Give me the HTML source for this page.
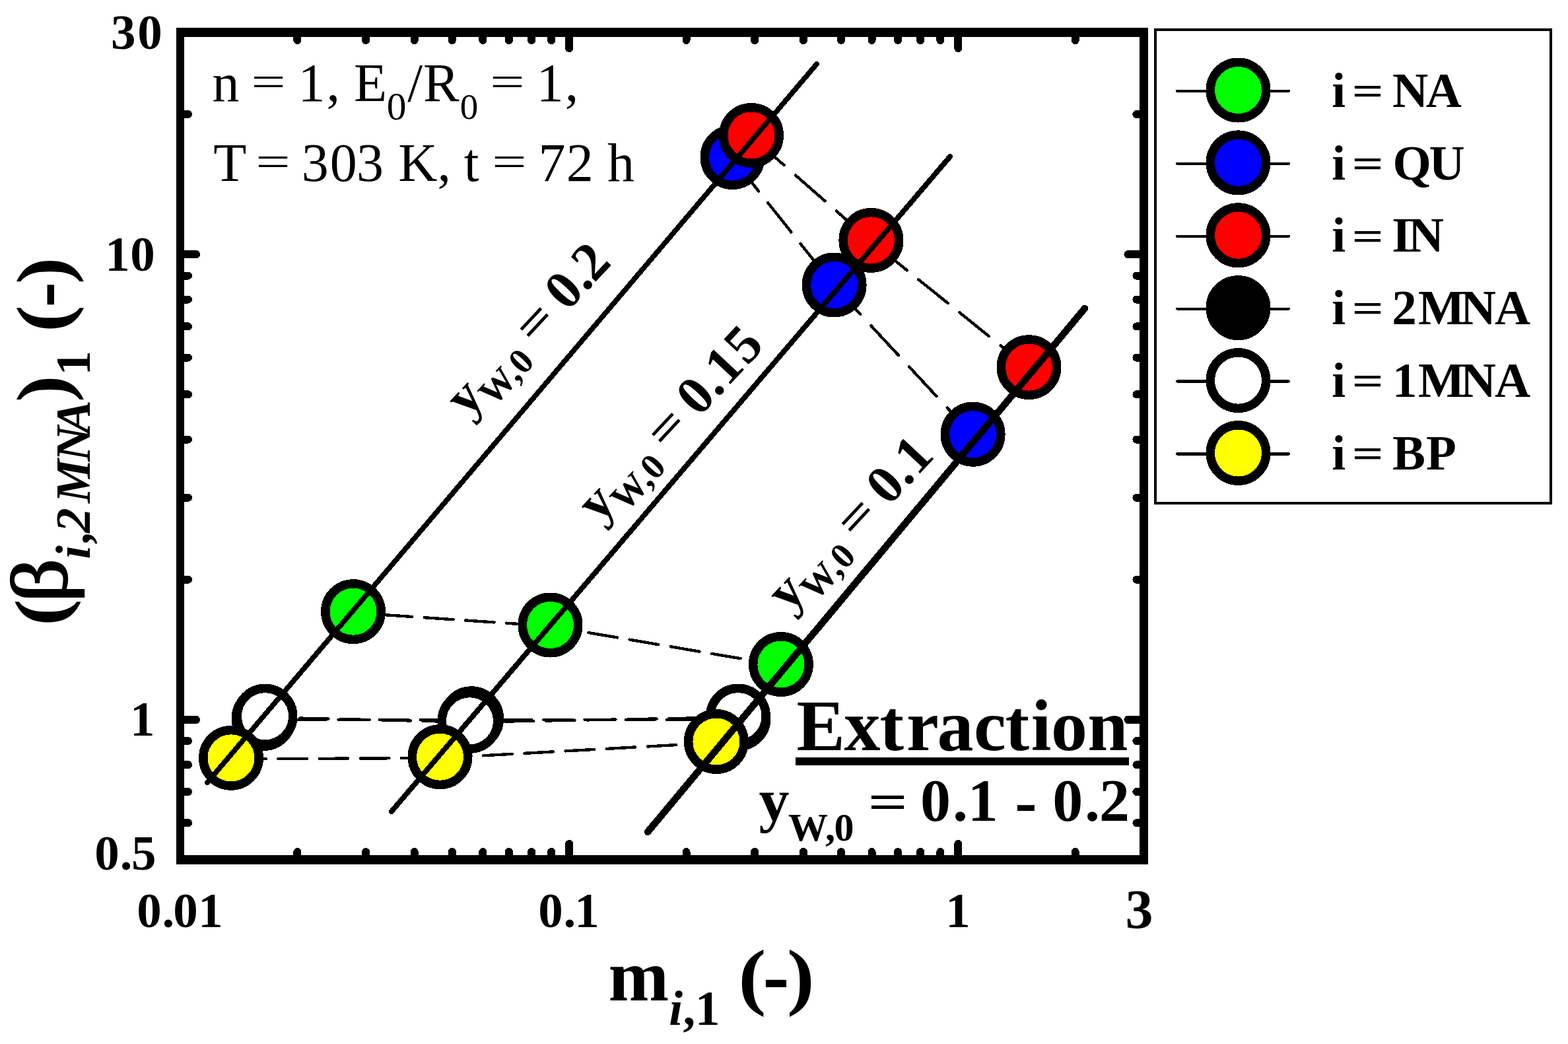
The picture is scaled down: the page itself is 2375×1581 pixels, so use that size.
<!DOCTYPE html>
<html lang="en"><head><meta charset="utf-8"><title>Extraction plot</title>
<style>html,body{margin:0;padding:0;background:#fff;overflow:hidden;}svg{display:block;}text{font-family:"Liberation Serif",serif;fill:#000;white-space:pre;}</style></head><body>
<svg width="2375" height="1581" viewBox="0 0 2375 1581" role="img" aria-label="Extraction selectivity plot">
<rect width="2375" height="1581" fill="#fff"/>
<g shape-rendering="crispEdges">
<line x1="535.0" y1="927.9" x2="833.5" y2="948.2" stroke="#000" stroke-width="4.4" stroke-linecap="round" stroke-dasharray="43.71 18.58" stroke-dashoffset="16.44"/>
<line x1="833.5" y1="948.2" x2="1182.9" y2="1007.7" stroke="#000" stroke-width="4.4" stroke-linecap="round" stroke-dasharray="44.29 18.75" stroke-dashoffset="4.24"/>
<circle cx="535.0" cy="926.2" r="42.25" fill="#00ff00" stroke="#000" stroke-width="13.5"/>
<circle cx="833.5" cy="946.5" r="42.25" fill="#00ff00" stroke="#000" stroke-width="13.5"/>
<circle cx="1182.9" cy="1006.0" r="42.25" fill="#00ff00" stroke="#000" stroke-width="13.5"/>
<line x1="1109.5" y1="239.8" x2="1263.6" y2="433.2" stroke="#000" stroke-width="4.4" stroke-linecap="round" stroke-dasharray="56.97 22.49" stroke-dashoffset="73.11"/>
<line x1="1263.6" y1="433.2" x2="1473.6" y2="659.4" stroke="#000" stroke-width="4.4" stroke-linecap="round" stroke-dasharray="61.10 23.71" stroke-dashoffset="2.85"/>
<circle cx="1109.5" cy="238.1" r="42.25" fill="#0000ff" stroke="#000" stroke-width="13.5"/>
<circle cx="1263.6" cy="431.5" r="42.25" fill="#0000ff" stroke="#000" stroke-width="13.5"/>
<circle cx="1473.6" cy="657.7" r="42.25" fill="#0000ff" stroke="#000" stroke-width="13.5"/>
<line x1="1138.0" y1="206.7" x2="1319.4" y2="365.6" stroke="#000" stroke-width="4.4" stroke-linecap="round" stroke-dasharray="59.41 23.21" stroke-dashoffset="76.37"/>
<line x1="1319.4" y1="365.6" x2="1558.5" y2="557.8" stroke="#000" stroke-width="4.4" stroke-linecap="round" stroke-dasharray="57.19 22.55" stroke-dashoffset="67.15"/>
<circle cx="1138.0" cy="205.0" r="42.25" fill="#ff0000" stroke="#000" stroke-width="13.5"/>
<circle cx="1319.4" cy="363.9" r="42.25" fill="#ff0000" stroke="#000" stroke-width="13.5"/>
<circle cx="1558.5" cy="556.1" r="42.25" fill="#ff0000" stroke="#000" stroke-width="13.5"/>
<line x1="399.5" y1="1089.7" x2="714.2" y2="1090.0" stroke="#000" stroke-width="4.4" stroke-linecap="round" stroke-dasharray="43.60 18.55" stroke-dashoffset="11.20"/>
<line x1="714.2" y1="1090.0" x2="1118.5" y2="1089.7" stroke="#000" stroke-width="4.4" stroke-linecap="round" stroke-dasharray="43.60 18.55" stroke-dashoffset="15.15"/>
<circle cx="399.5" cy="1088.0" r="42.25" fill="#000000" stroke="#000" stroke-width="13.5"/>
<circle cx="714.2" cy="1088.3" r="42.25" fill="#000000" stroke="#000" stroke-width="13.5"/>
<circle cx="1118.5" cy="1088.0" r="42.25" fill="#000000" stroke="#000" stroke-width="13.5"/>
<line x1="401.5" y1="1086.4" x2="711.5" y2="1093.5" stroke="#000" stroke-width="4.4" stroke-linecap="round" stroke-dasharray="43.61 18.55" stroke-dashoffset="9.70"/>
<line x1="711.5" y1="1093.5" x2="1118.0" y2="1086.3" stroke="#000" stroke-width="4.4" stroke-linecap="round" stroke-dasharray="43.61 18.55" stroke-dashoffset="8.95"/>
<circle cx="401.5" cy="1084.7" r="42.25" fill="#ffffff" stroke="#000" stroke-width="13.5"/>
<circle cx="711.5" cy="1091.8" r="42.25" fill="#ffffff" stroke="#000" stroke-width="13.5"/>
<circle cx="1118.0" cy="1084.6" r="42.25" fill="#ffffff" stroke="#000" stroke-width="13.5"/>
<line x1="350.0" y1="1149.5" x2="666.5" y2="1147.9" stroke="#000" stroke-width="4.4" stroke-linecap="round" stroke-dasharray="43.60 18.55" stroke-dashoffset="52.80"/>
<line x1="666.5" y1="1147.9" x2="1084.9" y2="1124.7" stroke="#000" stroke-width="4.4" stroke-linecap="round" stroke-dasharray="43.67 18.57" stroke-dashoffset="58.64"/>
<circle cx="350.0" cy="1147.8" r="42.25" fill="#ffff00" stroke="#000" stroke-width="13.5"/>
<circle cx="666.5" cy="1146.2" r="42.25" fill="#ffff00" stroke="#000" stroke-width="13.5"/>
<circle cx="1084.9" cy="1123.0" r="42.25" fill="#ffff00" stroke="#000" stroke-width="13.5"/>
<line x1="314" y1="1185" x2="1237.2" y2="96.7" stroke="#000" stroke-width="7.8" stroke-linecap="round"/>
<line x1="592.8" y1="1229.1" x2="1439.2" y2="236.9" stroke="#000" stroke-width="8.0" stroke-linecap="round"/>
<line x1="981.1" y1="1259.8" x2="1643" y2="467.1" stroke="#000" stroke-width="10.5" stroke-linecap="round"/>
<rect x="267" y="42" width="1472" height="14" fill="#000"/>
<rect x="267" y="1295" width="1472" height="14" fill="#000"/>
<rect x="267" y="42" width="12" height="1267" fill="#000"/>
<rect x="1726" y="42" width="13" height="1267" fill="#000"/>
<line x1="862.2" y1="1302.0" x2="862.2" y2="1278.0" stroke="#000" stroke-width="12" stroke-linecap="round"/>
<line x1="862.2" y1="49.0" x2="862.2" y2="73.0" stroke="#000" stroke-width="12" stroke-linecap="round"/>
<line x1="1451.3" y1="1302.0" x2="1451.3" y2="1278.0" stroke="#000" stroke-width="12" stroke-linecap="round"/>
<line x1="1451.3" y1="49.0" x2="1451.3" y2="73.0" stroke="#000" stroke-width="12" stroke-linecap="round"/>
<line x1="450.4" y1="1302.0" x2="450.4" y2="1290.0" stroke="#000" stroke-width="12" stroke-linecap="round"/>
<line x1="450.4" y1="49.0" x2="450.4" y2="61.0" stroke="#000" stroke-width="12" stroke-linecap="round"/>
<line x1="554.1" y1="1302.0" x2="554.1" y2="1290.0" stroke="#000" stroke-width="12" stroke-linecap="round"/>
<line x1="554.1" y1="49.0" x2="554.1" y2="61.0" stroke="#000" stroke-width="12" stroke-linecap="round"/>
<line x1="627.7" y1="1302.0" x2="627.7" y2="1290.0" stroke="#000" stroke-width="12" stroke-linecap="round"/>
<line x1="627.7" y1="49.0" x2="627.7" y2="61.0" stroke="#000" stroke-width="12" stroke-linecap="round"/>
<line x1="684.8" y1="1302.0" x2="684.8" y2="1290.0" stroke="#000" stroke-width="12" stroke-linecap="round"/>
<line x1="684.8" y1="49.0" x2="684.8" y2="61.0" stroke="#000" stroke-width="12" stroke-linecap="round"/>
<line x1="731.4" y1="1302.0" x2="731.4" y2="1290.0" stroke="#000" stroke-width="12" stroke-linecap="round"/>
<line x1="731.4" y1="49.0" x2="731.4" y2="61.0" stroke="#000" stroke-width="12" stroke-linecap="round"/>
<line x1="770.9" y1="1302.0" x2="770.9" y2="1290.0" stroke="#000" stroke-width="12" stroke-linecap="round"/>
<line x1="770.9" y1="49.0" x2="770.9" y2="61.0" stroke="#000" stroke-width="12" stroke-linecap="round"/>
<line x1="805.1" y1="1302.0" x2="805.1" y2="1290.0" stroke="#000" stroke-width="12" stroke-linecap="round"/>
<line x1="805.1" y1="49.0" x2="805.1" y2="61.0" stroke="#000" stroke-width="12" stroke-linecap="round"/>
<line x1="835.2" y1="1302.0" x2="835.2" y2="1290.0" stroke="#000" stroke-width="12" stroke-linecap="round"/>
<line x1="835.2" y1="49.0" x2="835.2" y2="61.0" stroke="#000" stroke-width="12" stroke-linecap="round"/>
<line x1="1039.5" y1="1302.0" x2="1039.5" y2="1290.0" stroke="#000" stroke-width="12" stroke-linecap="round"/>
<line x1="1039.5" y1="49.0" x2="1039.5" y2="61.0" stroke="#000" stroke-width="12" stroke-linecap="round"/>
<line x1="1143.2" y1="1302.0" x2="1143.2" y2="1290.0" stroke="#000" stroke-width="12" stroke-linecap="round"/>
<line x1="1143.2" y1="49.0" x2="1143.2" y2="61.0" stroke="#000" stroke-width="12" stroke-linecap="round"/>
<line x1="1216.9" y1="1302.0" x2="1216.9" y2="1290.0" stroke="#000" stroke-width="12" stroke-linecap="round"/>
<line x1="1216.9" y1="49.0" x2="1216.9" y2="61.0" stroke="#000" stroke-width="12" stroke-linecap="round"/>
<line x1="1274.0" y1="1302.0" x2="1274.0" y2="1290.0" stroke="#000" stroke-width="12" stroke-linecap="round"/>
<line x1="1274.0" y1="49.0" x2="1274.0" y2="61.0" stroke="#000" stroke-width="12" stroke-linecap="round"/>
<line x1="1320.6" y1="1302.0" x2="1320.6" y2="1290.0" stroke="#000" stroke-width="12" stroke-linecap="round"/>
<line x1="1320.6" y1="49.0" x2="1320.6" y2="61.0" stroke="#000" stroke-width="12" stroke-linecap="round"/>
<line x1="1360.0" y1="1302.0" x2="1360.0" y2="1290.0" stroke="#000" stroke-width="12" stroke-linecap="round"/>
<line x1="1360.0" y1="49.0" x2="1360.0" y2="61.0" stroke="#000" stroke-width="12" stroke-linecap="round"/>
<line x1="1394.2" y1="1302.0" x2="1394.2" y2="1290.0" stroke="#000" stroke-width="12" stroke-linecap="round"/>
<line x1="1394.2" y1="49.0" x2="1394.2" y2="61.0" stroke="#000" stroke-width="12" stroke-linecap="round"/>
<line x1="1424.3" y1="1302.0" x2="1424.3" y2="1290.0" stroke="#000" stroke-width="12" stroke-linecap="round"/>
<line x1="1424.3" y1="49.0" x2="1424.3" y2="61.0" stroke="#000" stroke-width="12" stroke-linecap="round"/>
<line x1="1628.7" y1="1302.0" x2="1628.7" y2="1290.0" stroke="#000" stroke-width="12" stroke-linecap="round"/>
<line x1="1628.7" y1="49.0" x2="1628.7" y2="61.0" stroke="#000" stroke-width="12" stroke-linecap="round"/>
<line x1="273.0" y1="1089.9" x2="297.0" y2="1089.9" stroke="#000" stroke-width="12" stroke-linecap="round"/>
<line x1="1732.4" y1="1089.9" x2="1708.4" y2="1089.9" stroke="#000" stroke-width="12" stroke-linecap="round"/>
<line x1="273.0" y1="385.2" x2="297.0" y2="385.2" stroke="#000" stroke-width="12" stroke-linecap="round"/>
<line x1="1732.4" y1="385.2" x2="1708.4" y2="385.2" stroke="#000" stroke-width="12" stroke-linecap="round"/>
<line x1="273.0" y1="1246.2" x2="285.0" y2="1246.2" stroke="#000" stroke-width="12" stroke-linecap="round"/>
<line x1="1732.4" y1="1246.2" x2="1721.4" y2="1246.2" stroke="#000" stroke-width="12" stroke-linecap="round"/>
<line x1="273.0" y1="1199.0" x2="285.0" y2="1199.0" stroke="#000" stroke-width="12" stroke-linecap="round"/>
<line x1="1732.4" y1="1199.0" x2="1721.4" y2="1199.0" stroke="#000" stroke-width="12" stroke-linecap="round"/>
<line x1="273.0" y1="1158.2" x2="285.0" y2="1158.2" stroke="#000" stroke-width="12" stroke-linecap="round"/>
<line x1="1732.4" y1="1158.2" x2="1721.4" y2="1158.2" stroke="#000" stroke-width="12" stroke-linecap="round"/>
<line x1="273.0" y1="1122.1" x2="285.0" y2="1122.1" stroke="#000" stroke-width="12" stroke-linecap="round"/>
<line x1="1732.4" y1="1122.1" x2="1721.4" y2="1122.1" stroke="#000" stroke-width="12" stroke-linecap="round"/>
<line x1="273.0" y1="877.7" x2="285.0" y2="877.7" stroke="#000" stroke-width="12" stroke-linecap="round"/>
<line x1="1732.4" y1="877.7" x2="1721.4" y2="877.7" stroke="#000" stroke-width="12" stroke-linecap="round"/>
<line x1="273.0" y1="753.7" x2="285.0" y2="753.7" stroke="#000" stroke-width="12" stroke-linecap="round"/>
<line x1="1732.4" y1="753.7" x2="1721.4" y2="753.7" stroke="#000" stroke-width="12" stroke-linecap="round"/>
<line x1="273.0" y1="665.6" x2="285.0" y2="665.6" stroke="#000" stroke-width="12" stroke-linecap="round"/>
<line x1="1732.4" y1="665.6" x2="1721.4" y2="665.6" stroke="#000" stroke-width="12" stroke-linecap="round"/>
<line x1="273.0" y1="597.3" x2="285.0" y2="597.3" stroke="#000" stroke-width="12" stroke-linecap="round"/>
<line x1="1732.4" y1="597.3" x2="1721.4" y2="597.3" stroke="#000" stroke-width="12" stroke-linecap="round"/>
<line x1="273.0" y1="541.5" x2="285.0" y2="541.5" stroke="#000" stroke-width="12" stroke-linecap="round"/>
<line x1="1732.4" y1="541.5" x2="1721.4" y2="541.5" stroke="#000" stroke-width="12" stroke-linecap="round"/>
<line x1="273.0" y1="494.4" x2="285.0" y2="494.4" stroke="#000" stroke-width="12" stroke-linecap="round"/>
<line x1="1732.4" y1="494.4" x2="1721.4" y2="494.4" stroke="#000" stroke-width="12" stroke-linecap="round"/>
<line x1="273.0" y1="453.5" x2="285.0" y2="453.5" stroke="#000" stroke-width="12" stroke-linecap="round"/>
<line x1="1732.4" y1="453.5" x2="1721.4" y2="453.5" stroke="#000" stroke-width="12" stroke-linecap="round"/>
<line x1="273.0" y1="417.5" x2="285.0" y2="417.5" stroke="#000" stroke-width="12" stroke-linecap="round"/>
<line x1="1732.4" y1="417.5" x2="1721.4" y2="417.5" stroke="#000" stroke-width="12" stroke-linecap="round"/>
<line x1="273.0" y1="173.1" x2="285.0" y2="173.1" stroke="#000" stroke-width="12" stroke-linecap="round"/>
<line x1="1732.4" y1="173.1" x2="1721.4" y2="173.1" stroke="#000" stroke-width="12" stroke-linecap="round"/>
<rect x="1750" y="44.9" width="599" height="717" fill="#fff" stroke="#000" stroke-width="3.9"/>
<line x1="1783.1" y1="137.9" x2="1951.9" y2="137.9" stroke="#000" stroke-width="4.2" stroke-linecap="round"/>
<circle cx="1875.5" cy="136.5" r="42.25" fill="#00ff00" stroke="#000" stroke-width="13.5"/>
<line x1="1783.1" y1="247.8" x2="1951.9" y2="247.8" stroke="#000" stroke-width="4.2" stroke-linecap="round"/>
<circle cx="1875.5" cy="246.4" r="42.25" fill="#0000ff" stroke="#000" stroke-width="13.5"/>
<line x1="1783.1" y1="357.7" x2="1951.9" y2="357.7" stroke="#000" stroke-width="4.2" stroke-linecap="round"/>
<circle cx="1875.5" cy="356.3" r="42.25" fill="#ff0000" stroke="#000" stroke-width="13.5"/>
<line x1="1783.1" y1="467.59999999999997" x2="1951.9" y2="467.59999999999997" stroke="#000" stroke-width="4.2" stroke-linecap="round"/>
<circle cx="1875.5" cy="466.2" r="42.25" fill="#000000" stroke="#000" stroke-width="13.5"/>
<line x1="1783.1" y1="577.5" x2="1951.9" y2="577.5" stroke="#000" stroke-width="4.2" stroke-linecap="round"/>
<circle cx="1875.5" cy="576.1" r="42.25" fill="#ffffff" stroke="#000" stroke-width="13.5"/>
<line x1="1783.1" y1="687.4" x2="1951.9" y2="687.4" stroke="#000" stroke-width="4.2" stroke-linecap="round"/>
<circle cx="1875.5" cy="686.0" r="42.25" fill="#ffff00" stroke="#000" stroke-width="13.5"/>
</g>
<g><text font-size="75" font-weight="bold" font-style="normal"><tspan x="2017.3" y="161.5">i </tspan></text><text font-size="75" font-weight="bold" font-style="normal" transform="matrix(1.1215 0 0 0.8296 2047.81 158.24)">= </text><text font-size="75" font-weight="bold" font-style="normal"><tspan x="2109.0" y="161.5">N</tspan><tspan x="2159.8" y="161.5">A</tspan></text></g>
<g><text font-size="75" font-weight="bold" font-style="normal"><tspan x="2017.3" y="271.7">i </tspan></text><text font-size="75" font-weight="bold" font-style="normal" transform="matrix(1.1215 0 0 0.8296 2047.81 268.44)">= </text><text font-size="75" font-weight="bold" font-style="normal"><tspan x="2109.6" y="271.7">Q</tspan><tspan x="2164.4" y="271.7">U</tspan></text></g>
<g><text font-size="75" font-weight="bold" font-style="normal"><tspan x="2017.3" y="381.3">i </tspan></text><text font-size="75" font-weight="bold" font-style="normal" transform="matrix(1.1215 0 0 0.8296 2047.81 378.04)">= </text><text font-size="75" font-weight="bold" font-style="normal"><tspan x="2108.3" y="381.3">I</tspan><tspan x="2132.7" y="381.3">N</tspan></text></g>
<g><text font-size="75" font-weight="bold" font-style="normal"><tspan x="2017.3" y="490.5">i </tspan></text><text font-size="75" font-weight="bold" font-style="normal" transform="matrix(1.1215 0 0 0.8296 2047.81 487.24)">= </text><text font-size="75" font-weight="bold" font-style="normal"><tspan x="2108.2" y="490.5">2</tspan><tspan x="2147.9" y="490.5">M</tspan><tspan x="2211.7" y="490.5">N</tspan><tspan x="2264.0" y="490.5">A</tspan></text></g>
<g><text font-size="75" font-weight="bold" font-style="normal"><tspan x="2017.3" y="600.5">i </tspan></text><text font-size="75" font-weight="bold" font-style="normal" transform="matrix(1.1215 0 0 0.8296 2047.81 597.24)">= </text><text font-size="75" font-weight="bold" font-style="normal"><tspan x="2109.1" y="600.5">1</tspan><tspan x="2147.9" y="600.5">M</tspan><tspan x="2211.7" y="600.5">N</tspan><tspan x="2264.0" y="600.5">A</tspan></text></g>
<g><text font-size="75" font-weight="bold" font-style="normal"><tspan x="2017.3" y="710.5">i </tspan></text><text font-size="75" font-weight="bold" font-style="normal" transform="matrix(1.1215 0 0 0.8296 2047.81 707.24)">= </text><text font-size="75" font-weight="bold" font-style="normal"><tspan x="2108.9" y="710.5">B</tspan><tspan x="2160.0" y="710.5">P</tspan></text></g>
<g><text font-size="75" font-weight="bold" font-style="normal"><tspan x="168.1" y="74.0">3</tspan><tspan x="208.3" y="74.0">0</tspan></text></g>
<g><text font-size="75" font-weight="bold" font-style="normal"><tspan x="159.2" y="409.8">1</tspan><tspan x="197.3" y="409.8">0</tspan></text></g>
<g><text font-size="75" font-weight="bold" font-style="normal"><tspan x="197.1" y="1114.0">1</tspan></text></g>
<g><text font-size="75" font-weight="bold" font-style="normal"><tspan x="143.2" y="1317.0">0</tspan><tspan x="181.7" y="1317.0">.</tspan><tspan x="199.1" y="1317.0">5</tspan></text></g>
<g><text font-size="75" font-weight="bold" font-style="normal"><tspan x="207.3" y="1404.0">0</tspan><tspan x="245.6" y="1404.0">.</tspan><tspan x="262.3" y="1404.0">0</tspan><tspan x="300.2" y="1404.0">1</tspan></text></g>
<g><text font-size="75" font-weight="bold" font-style="normal"><tspan x="815.2" y="1404.0">0</tspan><tspan x="853.6" y="1404.0">.</tspan><tspan x="870.2" y="1404.0">1</tspan></text></g>
<g><text font-size="75" font-weight="bold" font-style="normal"><tspan x="1432.2" y="1404.0">1</tspan></text></g>
<g><text font-size="84" font-weight="bold" font-style="normal"><tspan x="1704.4" y="1406.1">3</tspan></text></g>
<g><text font-size="110" font-weight="bold" font-style="normal"><tspan x="921.6" y="1514.8">m</tspan><tspan x="1013.3" y="1551.5" font-weight="bold" font-style="italic" font-size="75">i</tspan><tspan x="1034.5" y="1551.5" font-size="75">,</tspan><tspan x="1053.0" y="1551.5" font-size="75">1 </tspan></text><text font-size="110" font-weight="bold" font-style="normal" transform="matrix(1.1521 0 0 1.0161 1118.13 1516.30)">(</text><text font-size="110" font-weight="bold" font-style="normal" transform="matrix(1.0884 0 0 1.1984 1155.62 1520.43)">-</text><text font-size="110" font-weight="bold" font-style="normal" transform="matrix(1.1362 0 0 1.0161 1191.97 1516.30)">)</text></g>
<g transform="rotate(-90)"><text font-size="110" font-weight="bold" font-style="normal" transform="matrix(1.1061 0 0 1.0076 -947.85 98.90)">(</text><text font-size="124" font-weight="normal" font-style="normal" transform="matrix(1.0556 0 0 0.9771 -912.24 101.01)" stroke="#000" stroke-width="2.4">β</text><text font-size="110" font-weight="bold" font-style="normal"><tspan x="-846.8" y="136.4" font-weight="bold" font-style="italic" font-size="75">i</tspan><tspan x="-821.7" y="136.4" font-weight="bold" font-style="italic" font-size="75">,</tspan><tspan x="-806.8" y="136.4" font-weight="bold" font-style="italic" font-size="75">2</tspan><tspan x="-761.8" y="136.4" font-weight="bold" font-style="italic" font-size="75">M</tspan><tspan x="-699.1" y="136.4" font-weight="bold" font-style="italic" font-size="75">N</tspan><tspan x="-656.3" y="136.4" font-weight="bold" font-style="italic" font-size="75">A</tspan></text><text font-size="110" font-weight="bold" font-style="normal" transform="matrix(1.1061 0 0 1.0126 -608.92 103.04)">)</text><text font-size="110" font-weight="bold" font-style="normal"><tspan x="-568.6" y="136.4" font-size="75">1 </tspan></text><text font-size="110" font-weight="bold" font-style="normal" transform="matrix(1.1061 0 0 1.0126 -502.85 103.04)">(</text><text font-size="110" font-weight="bold" font-style="normal" transform="matrix(1.0499 0 0 1.1235 -465.48 105.59)">-</text><text font-size="110" font-weight="bold" font-style="normal" transform="matrix(1.1061 0 0 1.0126 -430.17 103.04)">)</text></g>
<g><text font-size="82" font-weight="normal" font-style="normal"><tspan x="321.6" y="152.9">n </tspan></text><text font-size="82" font-weight="normal" font-style="normal" transform="matrix(1.1295 0 0 0.7805 380.39 145.25)">= </text><text font-size="82" font-weight="normal" font-style="normal"><tspan x="451.4" y="152.9">1</tspan><tspan x="494.6" y="152.9">, </tspan><tspan x="535.9" y="152.9">E</tspan><tspan x="585.7" y="181.2" font-size="59.5">0</tspan><tspan x="617.3" y="152.9">/</tspan><tspan x="641.1" y="152.9">R</tspan><tspan x="696.7" y="179.5" font-size="55">0 </tspan></text><text font-size="82" font-weight="normal" font-style="normal" transform="matrix(1.1322 0 0 0.7805 742.18 145.25)">= </text><text font-size="82" font-weight="normal" font-style="normal"><tspan x="812.7" y="152.9">1</tspan><tspan x="855.7" y="152.9">,</tspan></text></g>
<g><text font-size="82" font-weight="normal" font-style="normal"><tspan x="323.3" y="273.8">T </tspan></text><text font-size="82" font-weight="normal" font-style="normal" transform="matrix(1.1348 0 0 0.7805 387.17 266.15)">= </text><text font-size="82" font-weight="normal" font-style="normal"><tspan x="456.7" y="273.8">3</tspan><tspan x="499.8" y="273.8">0</tspan><tspan x="539.9" y="273.8">3 </tspan><tspan x="603.3" y="273.8">K</tspan><tspan x="662.5" y="273.8">, </tspan><tspan x="702.8" y="273.8">t </tspan></text><text font-size="82" font-weight="normal" font-style="normal" transform="matrix(1.1322 0 0 0.7805 745.18 266.15)">= </text><text font-size="82" font-weight="normal" font-style="normal"><tspan x="815.4" y="273.8">7</tspan><tspan x="857.7" y="273.8">2 </tspan><tspan x="920.1" y="273.8">h</tspan></text></g>
<g><text font-size="110" font-weight="bold" font-style="normal"><tspan x="1206.6" y="1135.7">E</tspan><tspan x="1278.5" y="1135.7">x</tspan><tspan x="1332.5" y="1135.7">t</tspan><tspan x="1373.0" y="1135.7">r</tspan><tspan x="1419.5" y="1135.7">a</tspan><tspan x="1475.1" y="1135.7">c</tspan><tspan x="1522.5" y="1135.7">t</tspan><tspan x="1561.7" y="1135.7">i</tspan><tspan x="1592.0" y="1135.7">o</tspan><tspan x="1647.3" y="1135.7">n</tspan></text></g>
<rect x="1205" y="1147.3" width="504.8" height="11.7" fill="#000" shape-rendering="crispEdges"/>
<g><text font-size="92" font-weight="bold" font-style="normal"><tspan x="1149.5" y="1243.3">y</tspan><tspan x="1194.1" y="1272.9" font-size="60">W</tspan><tspan x="1249.9" y="1272.9" font-size="60">,</tspan><tspan x="1263.4" y="1272.9" font-size="60">0 </tspan></text><text font-size="92" font-weight="bold" font-style="normal" transform="matrix(1.1481 0 0 0.8292 1314.74 1240.01)">= </text><text font-size="92" font-weight="bold" font-style="normal"><tspan x="1394.0" y="1243.3">0</tspan><tspan x="1443.0" y="1243.3">.</tspan><tspan x="1465.7" y="1243.3">1 </tspan></text><text font-size="92" font-weight="bold" font-style="normal" transform="matrix(1.0879 0 0 1.1258 1537.23 1247.98)">- </text><text font-size="92" font-weight="bold" font-style="normal"><tspan x="1594.2" y="1243.3">0</tspan><tspan x="1643.1" y="1243.3">.</tspan><tspan x="1664.9" y="1243.3">2</tspan></text></g>
<g transform="translate(707.8,634.5) rotate(-46.9)"><text font-size="82" font-weight="bold" font-style="normal"><tspan x="0.7" y="0.0">y</tspan><tspan x="40.2" y="17.5" font-size="54.5">W</tspan><tspan x="91.1" y="17.5" font-size="54.5">,</tspan><tspan x="105.9" y="17.5" font-size="54.5">0 </tspan></text><text font-size="82" font-weight="bold" font-style="normal" transform="matrix(1.1596 0 0 0.8296 149.66 -3.56)">= </text><text font-size="82" font-weight="bold" font-style="normal"><tspan x="221.6" y="0.0">0</tspan><tspan x="262.6" y="0.0">.</tspan><tspan x="281.3" y="0.0">2</tspan></text></g>
<g transform="translate(907.4,794.2) rotate(-46.9)"><text font-size="82" font-weight="bold" font-style="normal"><tspan x="0.7" y="0.0">y</tspan><tspan x="40.2" y="17.5" font-size="54.5">W</tspan><tspan x="91.1" y="17.5" font-size="54.5">,</tspan><tspan x="105.9" y="17.5" font-size="54.5">0 </tspan></text><text font-size="82" font-weight="bold" font-style="normal" transform="matrix(1.1596 0 0 0.8296 149.66 -3.56)">= </text><text font-size="82" font-weight="bold" font-style="normal"><tspan x="221.6" y="0.0">0</tspan><tspan x="262.6" y="0.0">.</tspan><tspan x="284.3" y="0.0">1</tspan><tspan x="327.9" y="0.0">5</tspan></text></g>
<g transform="translate(1194.8,929.3) rotate(-46.9)"><text font-size="82" font-weight="bold" font-style="normal"><tspan x="0.7" y="0.0">y</tspan><tspan x="40.2" y="17.5" font-size="54.5">W</tspan><tspan x="91.1" y="17.5" font-size="54.5">,</tspan><tspan x="105.9" y="17.5" font-size="54.5">0 </tspan></text><text font-size="82" font-weight="bold" font-style="normal" transform="matrix(1.1596 0 0 0.8296 149.66 -3.56)">= </text><text font-size="82" font-weight="bold" font-style="normal"><tspan x="221.6" y="0.0">0</tspan><tspan x="262.6" y="0.0">.</tspan><tspan x="284.3" y="0.0">1</tspan></text></g>
</svg></body></html>
